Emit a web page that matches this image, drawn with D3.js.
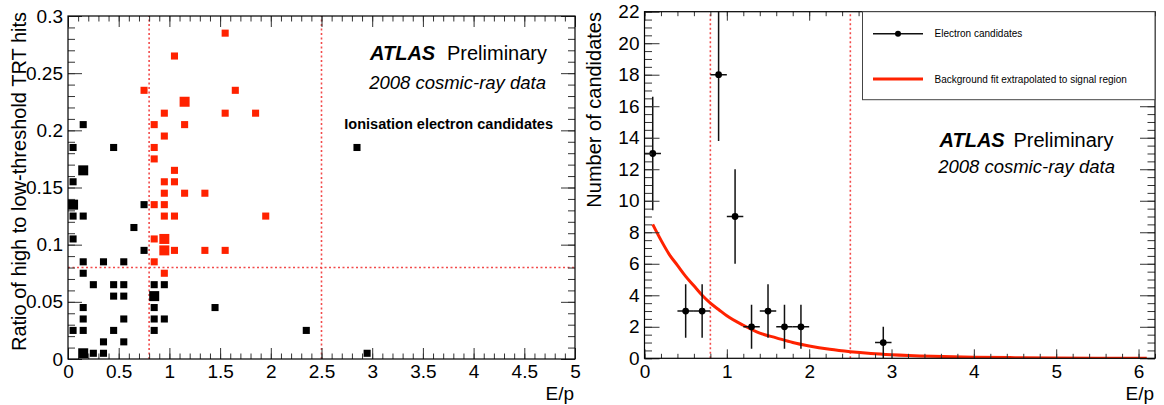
<!DOCTYPE html>
<html>
<head>
<meta charset="utf-8">
<script src="https://cdnjs.cloudflare.com/ajax/libs/d3/7.8.5/d3.min.js"></script>
<style>
  body { margin: 0; background: #fff; }
  svg { display: block; font-family: "Liberation Sans", Arial, Helvetica, sans-serif; }
  .tick line { stroke: #333; }
  .tick text { fill: #000; font-size: 19px; }
</style>
</head>
<body>
<script>
// left panel: TRT ratio vs E/p, [x bin centre, y bin centre, entries]
const blackCells = [
  [0.15, 0.205, 1], [0.05, 0.185, 1], [0.45, 0.185, 1], [2.85, 0.185, 1],
  [0.15, 0.165, 2], [0.05, 0.155, 1], [0.05, 0.135, 2], [0.75, 0.135, 1],
  [0.05, 0.125, 1], [0.15, 0.125, 1], [0.65, 0.115, 1], [0.05, 0.105, 1],
  [0.75, 0.095, 1], [0.15, 0.085, 1], [0.35, 0.085, 1], [0.55, 0.085, 1],
  [0.15, 0.075, 1], [0.25, 0.065, 1], [0.45, 0.065, 1], [0.55, 0.065, 1],
  [0.85, 0.065, 1], [0.95, 0.065, 1], [0.45, 0.055, 1], [0.55, 0.055, 1],
  [0.85, 0.055, 2], [0.15, 0.045, 1], [0.85, 0.045, 1], [1.45, 0.045, 1],
  [0.15, 0.035, 1], [0.55, 0.035, 1], [0.85, 0.035, 1], [0.95, 0.035, 1],
  [0.05, 0.025, 1], [0.15, 0.025, 1], [0.45, 0.025, 1], [0.85, 0.025, 1],
  [2.35, 0.025, 1], [0.35, 0.015, 1], [0.55, 0.015, 1], [0.15, 0.005, 2],
  [0.25, 0.005, 1], [0.35, 0.005, 1], [2.95, 0.005, 1]
];
const redCells = [
  [1.55, 0.285, 1], [1.05, 0.265, 1], [0.75, 0.235, 1], [1.65, 0.235, 1],
  [1.15, 0.225, 2], [0.95, 0.215, 1], [1.55, 0.215, 1], [1.85, 0.215, 1],
  [0.85, 0.205, 1], [1.15, 0.205, 1], [0.95, 0.195, 1], [0.85, 0.185, 1],
  [0.85, 0.175, 1], [1.05, 0.165, 1], [0.95, 0.155, 1], [1.05, 0.155, 1],
  [0.95, 0.145, 1], [1.15, 0.145, 1], [1.35, 0.145, 1], [0.85, 0.135, 1],
  [0.95, 0.135, 1], [0.95, 0.125, 1], [1.05, 0.125, 1], [1.95, 0.125, 1],
  [0.85, 0.105, 1], [0.95, 0.105, 2], [0.95, 0.095, 2], [1.05, 0.095, 1],
  [1.35, 0.095, 1], [1.55, 0.095, 1], [0.85, 0.085, 1], [0.95, 0.075, 1]
];
const leftXTicks = [0, 0.5, 1, 1.5, 2, 2.5, 3, 3.5, 4, 4.5, 5];
const leftYTicks = [0, 0.05, 0.1, 0.15, 0.2, 0.25, 0.3];
const leftCutsX = [0.8, 2.5];
const leftCutY = 0.08;

// right panel: candidates per E/p bin and background fit
const binX = [0.1, 0.5, 0.7, 0.9, 1.1, 1.3, 1.5, 1.7, 1.9, 2.9];
const binN = [13, 3, 3, 18, 9, 2, 3, 2, 2, 1];
const binErr = [3.6, 1.7, 1.7, 4.2, 3.0, 1.4, 1.7, 1.4, 1.4, 1.0];
const binHalf = 0.1;
const fitX = [0.1, 0.2, 0.3, 0.4, 0.5, 0.6, 0.7, 0.8, 0.9, 1.0, 1.2, 1.4, 1.6, 1.8, 2.0,
  2.25, 2.5, 2.75, 3.0, 3.5, 4.0, 4.5, 5.0, 5.5, 6.1];
const fitY = [8.5, 7.5, 6.6, 5.9, 5.2, 4.6, 4.0, 3.5, 3.1, 2.7, 2.1, 1.6, 1.3, 1.0, 0.78,
  0.57, 0.42, 0.31, 0.23, 0.13, 0.07, 0.04, 0.02, 0.01, 0.005];
const rightXTicks = [0, 1, 2, 3, 4, 5, 6];
const rightYTicks = [0, 2, 4, 6, 8, 10, 12, 14, 16, 18, 20, 22];
const rightCutsX = [0.8, 2.5];
const legendItems = ['Electron candidates', 'Background fit extrapolated to signal region'];

const red = '#ff2200', cutColor = '#f24a4a';

const svg = d3.select('body').append('svg')
  .attr('width', 1164)
  .attr('height', 405);

// ROOT style frame: ticks inside on all four sides
function frame(x, y, xMajor, xMinor, yMajor, yMinor, xLen, yLen) {
  const [x0, x1] = x.range(), [y0, y1] = y.range();
  const g = svg.append('g');
  const axes = [
    [d3.axisBottom(x), y0, true, xMajor, xMinor, xLen],
    [d3.axisTop(x), y1, false, xMajor, xMinor, xLen]
  ];
  axes.forEach(([ax, pos, labels, major, minor, len]) => {
    g.append('g').attr('transform', 'translate(0,' + pos + ')')
      .call(ax.tickValues(minor).tickSize(-len / 2).tickFormat(''))
      .select('.domain').remove();
    g.append('g').attr('transform', 'translate(0,' + pos + ')')
      .call(ax.tickValues(major).tickSize(-len).tickPadding(6).tickFormat(labels ? d => d : ''))
      .select('.domain').remove();
  });
  const yaxes = [
    [d3.axisLeft(y), x0, true],
    [d3.axisRight(y), x1, false]
  ];
  yaxes.forEach(([ax, pos, labels]) => {
    g.append('g').attr('transform', 'translate(' + pos + ',0)')
      .call(ax.tickValues(yMinor).tickSize(-yLen / 2).tickFormat(''))
      .select('.domain').remove();
    g.append('g').attr('transform', 'translate(' + pos + ',0)')
      .call(ax.tickValues(yMajor).tickSize(-yLen).tickPadding(5).tickFormat(labels ? d => d : ''))
      .select('.domain').remove();
  });
  g.append('rect')
    .attr('x', x0).attr('y', y1)
    .attr('width', x1 - x0).attr('height', y0 - y1)
    .attr('fill', 'none').attr('stroke', '#000').attr('stroke-width', 1.2);
}

function minorTicks(lo, hi, step) {
  return d3.range(Math.round((hi - lo) / step) + 1).map(i => +(lo + i * step).toFixed(4));
}

// ---------- left panel ----------
const lx = d3.scaleLinear().domain([0, 5]).range([68, 575]);
const ly = d3.scaleLinear().domain([0, 0.3]).range([359, 16]);
const boxSize = d3.scaleSqrt().domain([0, 2]).range([0, 10]);

svg.append('g').selectAll('line')
  .data(leftCutsX)
  .join('line')
  .attr('x1', d => lx(d)).attr('x2', d => lx(d))
  .attr('y1', ly(0)).attr('y2', ly(0.3))
  .attr('stroke', cutColor).attr('stroke-width', 1.6).attr('stroke-dasharray', '2,2.5');

svg.append('line')
  .attr('x1', lx(0)).attr('x2', lx(5))
  .attr('y1', ly(leftCutY)).attr('y2', ly(leftCutY))
  .attr('stroke', cutColor).attr('stroke-width', 1.6).attr('stroke-dasharray', '2,2.5');

[[blackCells, '#000'], [redCells, red]].forEach(([cells, color]) => {
  svg.append('g').selectAll('rect')
    .data(cells)
    .join('rect')
    .attr('x', d => lx(d[0]) - boxSize(d[2]) / 2)
    .attr('y', d => ly(d[1]) - boxSize(d[2]) / 2)
    .attr('width', d => boxSize(d[2]))
    .attr('height', d => boxSize(d[2]))
    .attr('fill', color);
});

frame(lx, ly, leftXTicks, minorTicks(0, 5, 0.1), leftYTicks, minorTicks(0, 0.3, 0.01), 11, 14);

svg.append('text')
  .attr('transform', 'translate(26,12) rotate(-90)')
  .attr('text-anchor', 'end')
  .style('font-size', '20px')
  .text('Ratio of high to low-threshold TRT hits');

svg.append('text')
  .attr('x', 574).attr('y', 400)
  .attr('text-anchor', 'end')
  .style('font-size', '19px')
  .text('E/p');

svg.append('text')
  .attr('x', 370).attr('y', 60)
  .style('font-size', '20px').style('font-weight', 'bold').style('font-style', 'italic')
  .text('ATLAS');
svg.append('text')
  .attr('x', 547).attr('y', 60)
  .attr('text-anchor', 'end')
  .style('font-size', '20px')
  .text('Preliminary');
svg.append('text')
  .attr('x', 546).attr('y', 89)
  .attr('text-anchor', 'end')
  .style('font-size', '18.5px').style('font-style', 'italic')
  .text('2008 cosmic-ray data');
svg.append('text')
  .attr('x', 553).attr('y', 129)
  .attr('text-anchor', 'end')
  .style('font-size', '14.5px').style('font-weight', 'bold')
  .text('Ionisation electron candidates');

// ---------- right panel ----------
const rx = d3.scaleLinear().domain([0, 6.2]).range([644.5, 1155]);
const ry = d3.scaleLinear().domain([0, 22]).range([358.3, 11.7]);

svg.append('defs').append('clipPath').attr('id', 'rclip')
  .append('rect')
  .attr('x', rx(0)).attr('y', ry(22))
  .attr('width', rx(6.2) - rx(0)).attr('height', ry(0) - ry(22));

const plot = svg.append('g').attr('clip-path', 'url(#rclip)');

plot.append('g').selectAll('line')
  .data(rightCutsX)
  .join('line')
  .attr('x1', d => rx(d)).attr('x2', d => rx(d))
  .attr('y1', ry(0)).attr('y2', ry(22))
  .attr('stroke', cutColor).attr('stroke-width', 1.6).attr('stroke-dasharray', '2,2.5');

plot.append('path')
  .datum(fitX.map((d, i) => [d, fitY[i]]))
  .attr('fill', 'none')
  .attr('stroke', red)
  .attr('stroke-width', 3)
  .attr('d', d3.line().x(d => rx(d[0])).y(d => ry(d[1])).curve(d3.curveMonotoneX));

const pts = plot.append('g').selectAll('g')
  .data(binX.map((d, i) => ({ x: d, n: binN[i], e: binErr[i] })))
  .join('g');

pts.append('line')
  .attr('x1', d => rx(d.x - binHalf)).attr('x2', d => rx(d.x + binHalf))
  .attr('y1', d => ry(d.n)).attr('y2', d => ry(d.n))
  .attr('stroke', '#111').attr('stroke-width', 1.5);
pts.append('line')
  .attr('x1', d => rx(d.x)).attr('x2', d => rx(d.x))
  .attr('y1', d => ry(d.n - d.e)).attr('y2', d => ry(d.n + d.e))
  .attr('stroke', '#111').attr('stroke-width', 1.5);
pts.append('circle')
  .attr('cx', d => rx(d.x)).attr('cy', d => ry(d.n))
  .attr('r', 3.4)
  .attr('fill', '#000');

frame(rx, ry, rightXTicks, minorTicks(0, 6.2, 0.2), rightYTicks, minorTicks(0, 22, 0.5), 9, 15);

// legend
const leg = svg.append('g');
leg.append('rect')
  .attr('x', 862.5).attr('y', 11.7)
  .attr('width', 1155 - 862.5).attr('height', 88)
  .attr('fill', '#fff').attr('stroke', '#444').attr('stroke-width', 1);
leg.append('line')
  .attr('x1', 873).attr('x2', 923).attr('y1', 33.7).attr('y2', 33.7)
  .attr('stroke', '#111').attr('stroke-width', 1.5);
leg.append('circle').attr('cx', 898).attr('cy', 33.7).attr('r', 3).attr('fill', '#000');
leg.append('line')
  .attr('x1', 873).attr('x2', 923).attr('y1', 79).attr('y2', 79)
  .attr('stroke', red).attr('stroke-width', 3);
leg.selectAll('text')
  .data(legendItems)
  .join('text')
  .attr('x', 934.5)
  .attr('y', (d, i) => [37.3, 82.6][i])
  .style('font-size', '10px')
  .text(d => d);

svg.append('text')
  .attr('transform', 'translate(601,12) rotate(-90)')
  .attr('text-anchor', 'end')
  .style('font-size', '20px')
  .text('Number of candidates');

svg.append('text')
  .attr('x', 1154).attr('y', 400)
  .attr('text-anchor', 'end')
  .style('font-size', '19px')
  .text('E/p');

svg.append('text')
  .attr('x', 939.5).attr('y', 147.3)
  .style('font-size', '20px').style('font-weight', 'bold').style('font-style', 'italic')
  .text('ATLAS');
svg.append('text')
  .attr('x', 1113.5).attr('y', 147.3)
  .attr('text-anchor', 'end')
  .style('font-size', '20px')
  .text('Preliminary');
svg.append('text')
  .attr('x', 1115).attr('y', 173.3)
  .attr('text-anchor', 'end')
  .style('font-size', '18.5px').style('font-style', 'italic')
  .text('2008 cosmic-ray data');
</script>
</body>
</html>
